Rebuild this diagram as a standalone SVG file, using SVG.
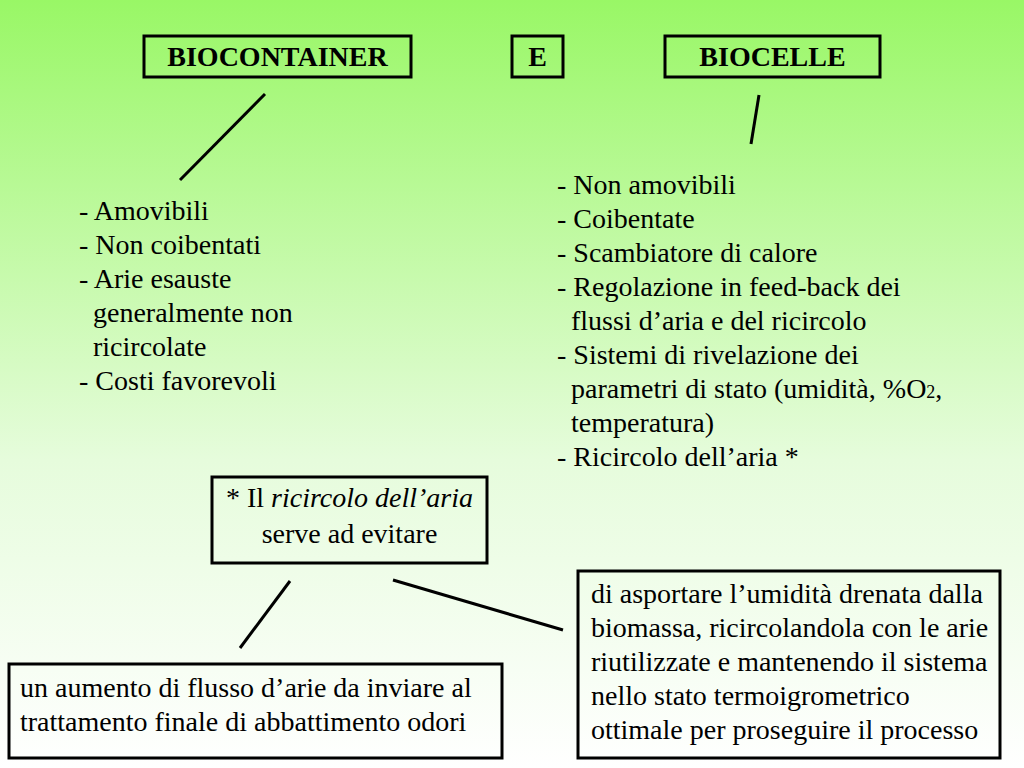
<svg xmlns="http://www.w3.org/2000/svg" width="1024" height="768" viewBox="0 0 1024 768">
<defs>
<linearGradient id="bg" x1="0" y1="0" x2="0" y2="1">
<stop offset="0" stop-color="#99f766"/>
<stop offset="0.6" stop-color="#e6fcdc"/>
<stop offset="1" stop-color="#ffffff"/>
</linearGradient>
<style>
.box{fill:none;stroke:#000;stroke-width:3}
.hd{font-family:'Liberation Serif','Times New Roman',Times,'DejaVu Serif',serif;font-weight:bold;font-size:28px;fill:#000}
.t{font-family:'Liberation Serif','Times New Roman',Times,'DejaVu Serif',serif;font-size:28px;fill:#000}
.c line{stroke:#000;stroke-width:3}
</style>
</defs>
<rect width="1024" height="768" fill="url(#bg)"/>
<g id="biocontainer">
<rect class="box" x="144" y="36" width="267" height="41"/>
<text class="hd" x="277.5" y="66" text-anchor="middle">BIOCONTAINER</text>
</g>
<g id="e">
<rect class="box" x="512" y="36" width="51" height="41"/>
<text class="hd" x="537.5" y="66" text-anchor="middle">E</text>
</g>
<g id="biocelle">
<rect class="box" x="665" y="36" width="215" height="41"/>
<text class="hd" x="772.5" y="66" text-anchor="middle">BIOCELLE</text>
</g>
<g id="list-left">
<text class="t" x="79" y="220">- Amovibili</text>
<text class="t" x="79" y="254">- Non coibentati</text>
<text class="t" x="79" y="288">- Arie esauste</text>
<text class="t" x="93" y="322">generalmente non</text>
<text class="t" x="93" y="356">ricircolate</text>
<text class="t" x="79" y="390">- Costi favorevoli</text>
</g>
<g id="list-right">
<text class="t" x="557" y="194">- Non amovibili</text>
<text class="t" x="557" y="228">- Coibentate</text>
<text class="t" x="557" y="262">- Scambiatore di calore</text>
<text class="t" x="557" y="296">- Regolazione in feed-back dei</text>
<text class="t" x="571" y="330">flussi d’aria e del ricircolo</text>
<text class="t" x="557" y="364">- Sistemi di rivelazione dei</text>
<text class="t" x="571" y="398">parametri di stato (umidità, %O<tspan font-size="18">2</tspan>,</text>
<text class="t" x="571" y="432">temperatura)</text>
<text class="t" x="557" y="466">- Ricircolo dell’aria *</text>
</g>
<g id="footnote">
<rect class="box" x="212" y="477" width="275" height="86"/>
<text class="t" x="349.5" y="507" text-anchor="middle">* Il <tspan font-style="italic">ricircolo dell’aria</tspan></text>
<text class="t" x="349.5" y="543" text-anchor="middle">serve ad evitare</text>
</g>
<g id="left-effect">
<rect class="box" x="9" y="664" width="493" height="94"/>
<text class="t" x="20" y="697">un aumento di flusso d’arie da inviare al</text>
<text class="t" x="20" y="731">trattamento finale di abbattimento odori</text>
</g>
<g id="right-effect">
<rect class="box" x="578" y="571" width="422" height="187"/>
<text class="t" x="591" y="603">di asportare l’umidità drenata dalla</text>
<text class="t" x="591" y="637">biomassa, ricircolandola con le arie</text>
<text class="t" x="591" y="671">riutilizzate e mantenendo il sistema</text>
<text class="t" x="591" y="705">nello stato termoigrometrico</text>
<text class="t" x="591" y="739">ottimale per proseguire il processo</text>
</g>
<g id="connectors" class="c">
<line x1="265" y1="94" x2="180" y2="180"/>
<line x1="759" y1="95" x2="751" y2="144"/>
<line x1="290" y1="581" x2="240" y2="648"/>
<line x1="393" y1="580" x2="563" y2="630"/>
</g>
</svg>
